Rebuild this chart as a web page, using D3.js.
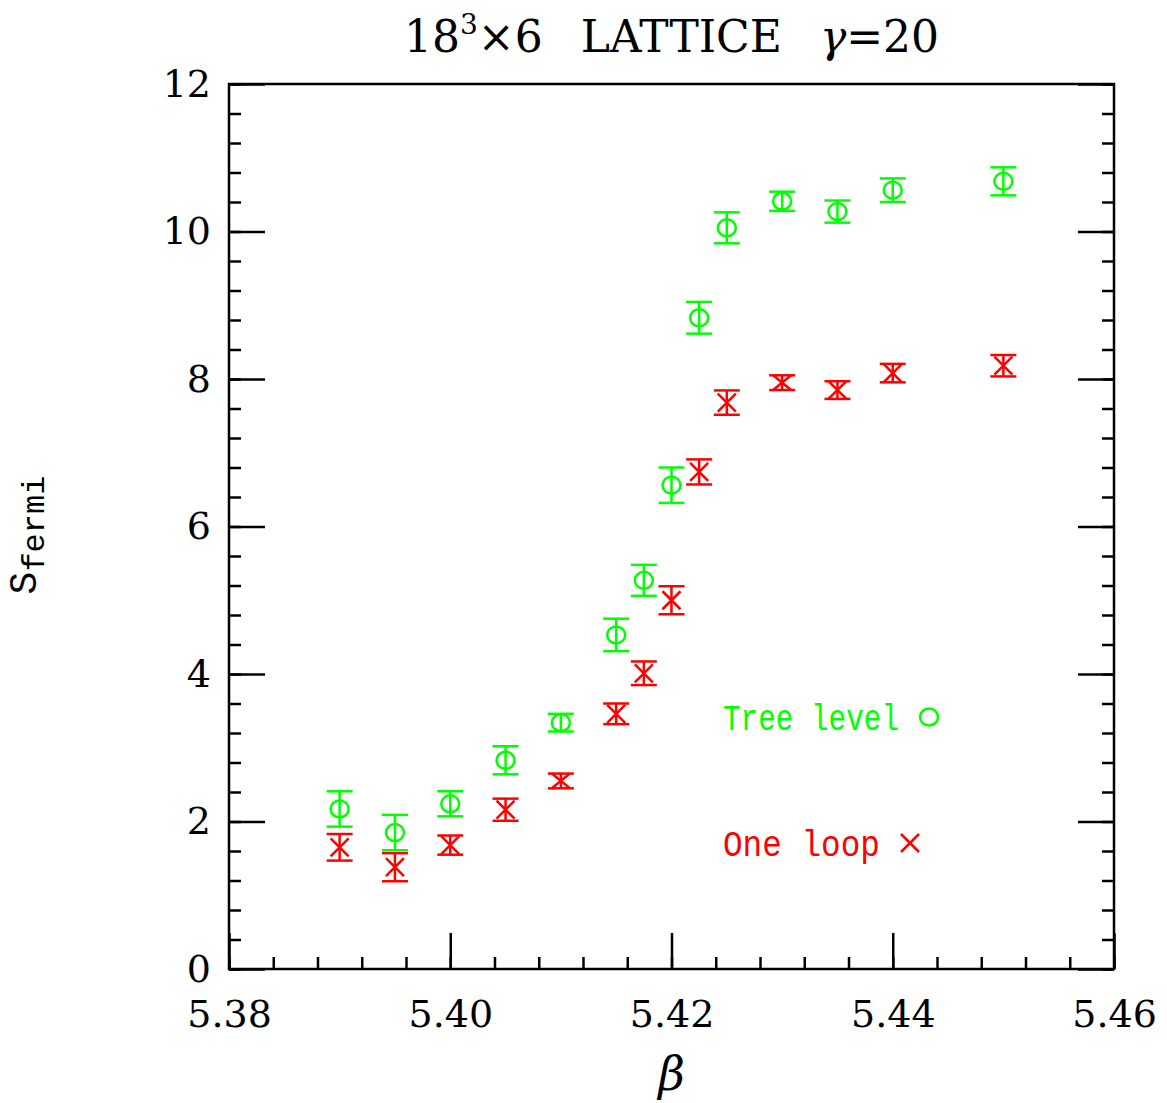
<!DOCTYPE html>
<html>
<head>
<meta charset="utf-8">
<script src="https://cdn.jsdelivr.net/npm/d3@7"></script>
<style>
  body { margin: 0; background: #fff; }
  svg { display: block; }
</style>
</head>
<body>
<script>
// beta values and the two measurements with their errors
var beta = [5.390, 5.395, 5.400, 5.405, 5.410, 5.415, 5.4175, 5.420, 5.4225, 5.425, 5.430, 5.435, 5.440, 5.450];
var treeLevel = [2.17, 1.85, 2.24, 2.83, 3.34, 4.53, 5.27, 6.56, 8.83, 10.05, 10.41, 10.27, 10.56, 10.68];
var treeErr = [0.24, 0.24, 0.17, 0.19, 0.12, 0.22, 0.21, 0.24, 0.215, 0.21, 0.13, 0.15, 0.16, 0.19];
var oneLoop = [1.65, 1.38, 1.68, 2.16, 2.55, 3.46, 4.01, 5.00, 6.74, 7.68, 7.95, 7.85, 8.08, 8.18];
var oneLoopErr = [0.18, 0.19, 0.13, 0.15, 0.10, 0.14, 0.16, 0.19, 0.17, 0.165, 0.10, 0.12, 0.125, 0.145];

var xTicks = [5.38, 5.40, 5.42, 5.44, 5.46];
var yTicks = [0, 2, 4, 6, 8, 10, 12];

var margin = {top: 84, right: 53, bottom: 134, left: 229},
    width = 1167 - margin.left - margin.right,
    height = 1103 - margin.top - margin.bottom;

var GREEN = "#00ff00", RED = "#ff0000";
var serif = "'DejaVu Serif', serif";
var mono = "'Liberation Mono', monospace";

var svgRoot = d3.select("body").append("svg")
  .attr("width", 1167)
  .attr("height", 1103);

var svg = svgRoot.append("g")
  .attr("transform", "translate(" + margin.left + "," + margin.top + ")");

var x = d3.scaleLinear().domain([5.38, 5.46]).range([0, width]);
var y = d3.scaleLinear().domain([0, 12]).range([height, 0]);

var minorX = d3.range(0, 21).map(function(i) { return 5.38 + i * 0.004; });
var minorY = d3.range(0, 31).map(function(i) { return i * 0.4; });

function styleAxis(g) {
  g.select(".domain").remove();
  g.selectAll(".tick line").attr("stroke", "#000").attr("stroke-width", 2.5);
  g.selectAll(".tick text").attr("font-family", serif).attr("font-size", "38px").attr("fill", "#000");
}

// bottom axis: major + minor ticks pointing inward
svg.append("g")
  .attr("transform", "translate(0," + height + ")")
  .call(d3.axisBottom(x).tickValues(minorX).tickFormat("").tickSize(-12).tickSizeOuter(0))
  .call(styleAxis);
svg.append("g")
  .attr("transform", "translate(0," + height + ")")
  .call(d3.axisBottom(x).tickValues(xTicks).tickFormat(d3.format(".2f")).tickSize(-36).tickSizeOuter(0).tickPadding(31))
  .call(styleAxis);

// left axis
svg.append("g")
  .call(d3.axisLeft(y).tickValues(minorY).tickFormat("").tickSize(-12).tickSizeOuter(0))
  .call(styleAxis);
svg.append("g")
  .call(d3.axisLeft(y).tickValues(yTicks).tickFormat(d3.format("d")).tickSize(-36).tickSizeOuter(0).tickPadding(18))
  .call(styleAxis);

// right axis, no labels
svg.append("g")
  .attr("transform", "translate(" + width + ",0)")
  .call(d3.axisRight(y).tickValues(minorY).tickFormat("").tickSize(-12).tickSizeOuter(0))
  .call(styleAxis);
svg.append("g")
  .attr("transform", "translate(" + width + ",0)")
  .call(d3.axisRight(y).tickValues(yTicks).tickFormat("").tickSize(-36).tickSizeOuter(0))
  .call(styleAxis);

// frame
svg.append("rect")
  .attr("width", width)
  .attr("height", height)
  .attr("fill", "none")
  .attr("stroke", "#000")
  .attr("stroke-width", 2.5);

// error bars + markers
function drawSeries(vals, errs, color, kind) {
  var data = beta.map(function(b, i) { return {b: b, v: vals[i], e: errs[i]}; });
  var g = svg.append("g").attr("stroke", color).attr("stroke-width", 2.5).attr("fill", "none");
  var pts = g.selectAll("g.pt").data(data).enter().append("g").attr("class", "pt");
  pts.append("line")
    .attr("x1", function(d) { return x(d.b); })
    .attr("x2", function(d) { return x(d.b); })
    .attr("y1", function(d) { return y(d.v + d.e); })
    .attr("y2", function(d) { return y(d.v - d.e); });
  [1, -1].forEach(function(s) {
    pts.append("line")
      .attr("x1", function(d) { return x(d.b) - 13; })
      .attr("x2", function(d) { return x(d.b) + 13; })
      .attr("y1", function(d) { return y(d.v + s * d.e); })
      .attr("y2", function(d) { return y(d.v + s * d.e); });
  });
  if (kind === "circle") {
    pts.append("ellipse")
      .attr("cx", function(d) { return x(d.b); })
      .attr("cy", function(d) { return y(d.v); })
      .attr("rx", 9)
      .attr("ry", 8.5);
  } else {
    pts.append("path")
      .attr("d", function(d) {
        var cx = x(d.b), cy = y(d.v);
        var h = Math.min(9, y(d.v - d.e) - cy);
        return "M" + (cx - 9) + "," + (cy - h) + "L" + (cx + 9) + "," + (cy + h) +
               "M" + (cx - 9) + "," + (cy + h) + "L" + (cx + 9) + "," + (cy - h);
      });
  }
}
drawSeries(treeLevel, treeErr, GREEN, "circle");
drawSeries(oneLoop, oneLoopErr, RED, "cross");

// legend
svgRoot.append("text")
  .attr("transform", "translate(723,730) scale(1,1.3)")
  .attr("font-family", mono).attr("font-size", "29px").attr("fill", GREEN)
  .attr("textLength", 176).attr("lengthAdjust", "spacingAndGlyphs")
  .text("Tree level");
svgRoot.append("ellipse")
  .attr("cx", 929).attr("cy", 717).attr("rx", 9).attr("ry", 8.5)
  .attr("fill", "none").attr("stroke", GREEN).attr("stroke-width", 2.5);
svgRoot.append("text")
  .attr("transform", "translate(723,856) scale(1,1.3)")
  .attr("font-family", mono).attr("font-size", "29px").attr("fill", RED)
  .attr("textLength", 157).attr("lengthAdjust", "spacingAndGlyphs")
  .text("One loop");
svgRoot.append("path")
  .attr("d", "M901,834L919,852M901,852L919,834")
  .attr("stroke", RED).attr("stroke-width", 2.5);

// title
var title = svgRoot.append("text")
  .attr("x", margin.left + width / 2)
  .attr("y", 52)
  .attr("text-anchor", "middle")
  .attr("font-family", serif)
  .attr("font-size", "44px")
  .style("word-spacing", "24px");
title.append("tspan").text("18");
title.append("tspan").attr("dy", -18).attr("font-size", "28px").text("3");
title.append("tspan").attr("dy", 18).text("×6 LATTICE ");
title.append("tspan").attr("font-style", "italic").text("γ");
title.append("tspan").text("=20");

// axis labels
svgRoot.append("text")
  .attr("x", margin.left + width / 2)
  .attr("y", 1090)
  .attr("text-anchor", "middle")
  .attr("font-family", serif)
  .attr("font-style", "italic")
  .attr("font-size", "46px")
  .text("β");

var ylab = svgRoot.append("text")
  .attr("transform", "translate(36,535) rotate(-90)")
  .attr("text-anchor", "middle")
  .attr("font-family", mono)
  .attr("font-size", "38px");
ylab.append("tspan").text("S");
ylab.append("tspan").attr("dy", 8).attr("font-size", "32px").text("fermi");
</script>
</body>
</html>
